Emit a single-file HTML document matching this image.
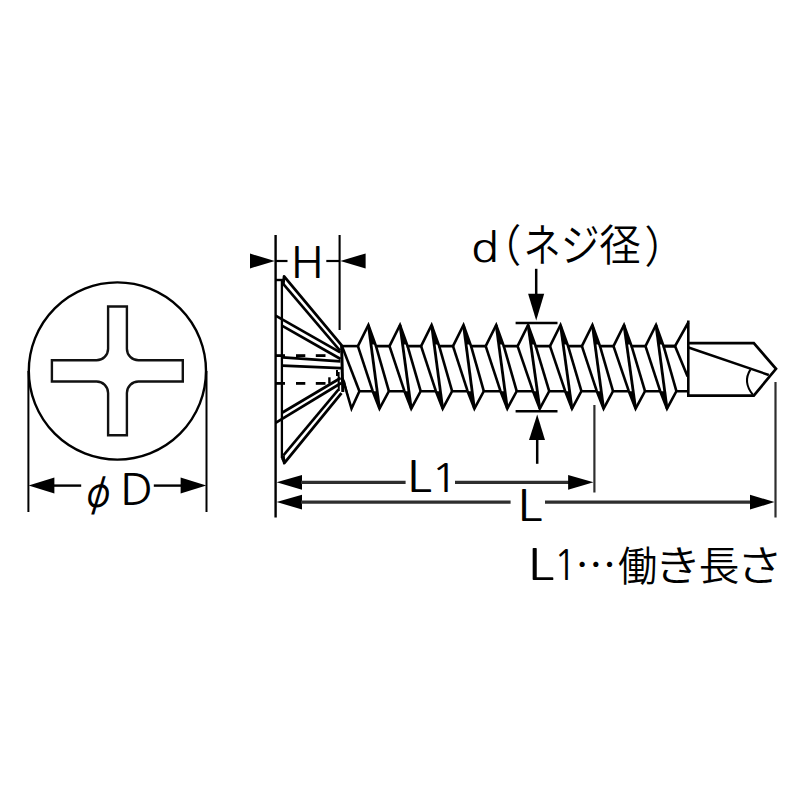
<!DOCTYPE html>
<html lang="ja">
<head>
<meta charset="utf-8">
<style>
html,body{margin:0;padding:0;background:#fff;}
body{width:800px;height:800px;overflow:hidden;font-family:"Liberation Sans","Noto Sans CJK JP",sans-serif;}
svg{display:block;}
</style>
</head>
<body>
<svg width="800" height="800" viewBox="0 0 800 800">
<rect x="0" y="0" width="800" height="800" fill="#fff"/>
<circle cx="117.4" cy="371.0" r="88.6" fill="none" stroke="#000" stroke-width="2.4"/>
<path d="M108.1,306.5 H126.9 V348.7 A11.5,11.5 0 0 0 138.4,360.2 H182.8 V381.5 H138.4 A11.5,11.5 0 0 0 126.9,393.0 V435.3 H108.1 V393.0 A11.5,11.5 0 0 0 96.6,381.5 H51.9 V360.2 H96.6 A11.5,11.5 0 0 0 108.1,348.7 Z" fill="none" stroke="#111" stroke-width="2.4" stroke-linejoin="miter" stroke-linecap="butt"/>
<line x1="28.40" y1="371.00" x2="28.40" y2="512.00" stroke="#000" stroke-width="2" stroke-linecap="butt"/>
<line x1="206.50" y1="371.00" x2="206.50" y2="512.00" stroke="#000" stroke-width="2" stroke-linecap="butt"/>
<polygon points="28.60,485.60 54.40,477.60 54.40,493.60" fill="#000"/>
<line x1="54.00" y1="485.60" x2="81.20" y2="485.60" stroke="#000" stroke-width="2.4" stroke-linecap="butt"/>
<polygon points="206.30,485.60 180.60,477.60 180.60,493.60" fill="#000"/>
<line x1="153.80" y1="485.60" x2="181.00" y2="485.60" stroke="#000" stroke-width="2.4" stroke-linecap="butt"/>
<line x1="275.60" y1="235.00" x2="275.60" y2="517.50" stroke="#000" stroke-width="2.4" stroke-linecap="butt"/>
<line x1="281.90" y1="280.00" x2="281.90" y2="458.00" stroke="#000" stroke-width="2.3" stroke-linecap="butt"/>
<line x1="339.60" y1="235.00" x2="339.60" y2="330.00" stroke="#000" stroke-width="2.1" stroke-linecap="butt"/>
<line x1="275.60" y1="280.00" x2="283.00" y2="280.00" stroke="#000" stroke-width="2.4" stroke-linecap="butt"/>
<line x1="275.60" y1="355.60" x2="285.00" y2="355.60" stroke="#000" stroke-width="2.8" stroke-linecap="butt"/>
<line x1="275.60" y1="383.40" x2="285.00" y2="383.40" stroke="#000" stroke-width="2.8" stroke-linecap="butt"/>
<path d="M283.3,284.2 L284.1,276.4 L341.9,345.6" fill="none" stroke="#000" stroke-width="2.8" stroke-linejoin="round" stroke-linecap="butt"/>
<line x1="283.20" y1="283.90" x2="340.00" y2="350.60" stroke="#000" stroke-width="2.6" stroke-linecap="butt"/>
<path d="M283.3,456 L284.3,463.2 L341.5,393.2" fill="none" stroke="#000" stroke-width="2.8" stroke-linejoin="round" stroke-linecap="butt"/>
<line x1="283.20" y1="455.60" x2="338.40" y2="389.60" stroke="#000" stroke-width="2.6" stroke-linecap="butt"/>
<line x1="281.90" y1="458.00" x2="284.00" y2="462.00" stroke="#000" stroke-width="2.3" stroke-linecap="butt"/>
<line x1="275.60" y1="315.60" x2="340.20" y2="352.40" stroke="#000" stroke-width="2.7" stroke-linecap="butt"/>
<line x1="281.90" y1="325.60" x2="340.60" y2="359.00" stroke="#000" stroke-width="2.7" stroke-linecap="butt"/>
<line x1="282.50" y1="357.40" x2="340.40" y2="361.40" stroke="#000" stroke-width="2.8" stroke-linecap="butt"/>
<line x1="282.50" y1="365.60" x2="341.00" y2="368.20" stroke="#000" stroke-width="2.7" stroke-linecap="butt"/>
<line x1="282.50" y1="412.50" x2="340.60" y2="378.00" stroke="#000" stroke-width="2.7" stroke-linecap="butt"/>
<line x1="275.60" y1="422.80" x2="341.20" y2="383.00" stroke="#000" stroke-width="2.7" stroke-linecap="butt"/>
<line x1="296.00" y1="355.60" x2="305.30" y2="355.60" stroke="#000" stroke-width="2.8" stroke-linecap="butt"/>
<line x1="315.80" y1="355.60" x2="325.50" y2="355.60" stroke="#000" stroke-width="2.8" stroke-linecap="butt"/>
<line x1="296.00" y1="383.40" x2="305.30" y2="383.40" stroke="#000" stroke-width="2.8" stroke-linecap="butt"/>
<line x1="315.80" y1="383.40" x2="325.50" y2="383.40" stroke="#000" stroke-width="2.8" stroke-linecap="butt"/>
<line x1="329.40" y1="377.30" x2="329.40" y2="383.60" stroke="#000" stroke-width="2.4" stroke-linecap="butt"/>
<line x1="337.00" y1="370.00" x2="337.00" y2="376.00" stroke="#000" stroke-width="2" stroke-linecap="butt"/>
<line x1="338.60" y1="372.00" x2="338.80" y2="391.00" stroke="#000" stroke-width="2" stroke-linecap="butt"/>
<path d="M341.6,345 L342.8,392" fill="none" stroke="#000" stroke-width="3" stroke-linejoin="miter" stroke-linecap="butt"/>
<path d="M357.90,346.1 L368.40,325.0 L376.00,346.1 H389.50" fill="none" stroke="#000" stroke-width="2.6" stroke-linejoin="miter" stroke-linecap="butt"/>
<line x1="357.90" y1="346.10" x2="372.70" y2="391.20" stroke="#000" stroke-width="2.6" stroke-linecap="butt"/>
<line x1="376.00" y1="346.10" x2="388.90" y2="391.20" stroke="#000" stroke-width="2.6" stroke-linecap="butt"/>
<line x1="368.40" y1="325.00" x2="379.50" y2="408.60" stroke="#000" stroke-width="2.8" stroke-linecap="butt"/>
<path d="M372.70,391.2 L379.50,408.6 L388.90,391.2 H404.45" fill="none" stroke="#000" stroke-width="2.6" stroke-linejoin="miter" stroke-linecap="butt"/>
<polygon points="368.40,324.00 375.42,344.50 371.01,344.50" fill="#000"/>
<polygon points="379.50,409.60 372.70,391.20 377.27,391.20" fill="#000"/>
<path d="M389.50,346.1 L400.00,325.0 L407.60,346.1 H421.10" fill="none" stroke="#000" stroke-width="2.6" stroke-linejoin="miter" stroke-linecap="butt"/>
<line x1="389.50" y1="346.10" x2="404.45" y2="391.20" stroke="#000" stroke-width="2.6" stroke-linecap="butt"/>
<line x1="407.60" y1="346.10" x2="420.65" y2="391.20" stroke="#000" stroke-width="2.6" stroke-linecap="butt"/>
<line x1="400.00" y1="325.00" x2="411.25" y2="408.60" stroke="#000" stroke-width="2.8" stroke-linecap="butt"/>
<path d="M404.45,391.2 L411.25,408.6 L420.65,391.2 H435.90" fill="none" stroke="#000" stroke-width="2.6" stroke-linejoin="miter" stroke-linecap="butt"/>
<polygon points="400.00,324.00 407.02,344.50 402.61,344.50" fill="#000"/>
<polygon points="411.25,409.60 404.45,391.20 408.87,391.20" fill="#000"/>
<path d="M421.10,346.1 L431.60,325.0 L439.20,346.1 H453.00" fill="none" stroke="#000" stroke-width="2.6" stroke-linejoin="miter" stroke-linecap="butt"/>
<line x1="421.10" y1="346.10" x2="435.90" y2="391.20" stroke="#000" stroke-width="2.6" stroke-linecap="butt"/>
<line x1="439.20" y1="346.10" x2="452.10" y2="391.20" stroke="#000" stroke-width="2.6" stroke-linecap="butt"/>
<line x1="431.60" y1="325.00" x2="442.70" y2="408.60" stroke="#000" stroke-width="2.8" stroke-linecap="butt"/>
<path d="M435.90,391.2 L442.70,408.6 L452.10,391.2 H467.60" fill="none" stroke="#000" stroke-width="2.6" stroke-linejoin="miter" stroke-linecap="butt"/>
<polygon points="431.60,324.00 438.62,344.50 434.21,344.50" fill="#000"/>
<polygon points="442.70,409.60 435.90,391.20 440.47,391.20" fill="#000"/>
<path d="M453.00,346.1 L463.50,325.0 L471.10,346.1 H485.70" fill="none" stroke="#000" stroke-width="2.6" stroke-linejoin="miter" stroke-linecap="butt"/>
<line x1="453.00" y1="346.10" x2="467.60" y2="391.20" stroke="#000" stroke-width="2.6" stroke-linecap="butt"/>
<line x1="471.10" y1="346.10" x2="483.80" y2="391.20" stroke="#000" stroke-width="2.6" stroke-linecap="butt"/>
<line x1="463.50" y1="325.00" x2="474.40" y2="408.60" stroke="#000" stroke-width="2.8" stroke-linecap="butt"/>
<path d="M467.60,391.2 L474.40,408.6 L483.80,391.2 H500.50" fill="none" stroke="#000" stroke-width="2.6" stroke-linejoin="miter" stroke-linecap="butt"/>
<polygon points="463.50,324.00 470.52,344.50 466.11,344.50" fill="#000"/>
<polygon points="474.40,409.60 467.60,391.20 472.37,391.20" fill="#000"/>
<path d="M485.70,346.1 L496.20,325.0 L503.80,346.1 H517.60" fill="none" stroke="#000" stroke-width="2.6" stroke-linejoin="miter" stroke-linecap="butt"/>
<line x1="485.70" y1="346.10" x2="500.50" y2="391.20" stroke="#000" stroke-width="2.6" stroke-linecap="butt"/>
<line x1="503.80" y1="346.10" x2="516.70" y2="391.20" stroke="#000" stroke-width="2.6" stroke-linecap="butt"/>
<line x1="496.20" y1="325.00" x2="507.30" y2="408.60" stroke="#000" stroke-width="2.8" stroke-linecap="butt"/>
<path d="M500.50,391.2 L507.30,408.6 L516.70,391.2 H533.00" fill="none" stroke="#000" stroke-width="2.6" stroke-linejoin="miter" stroke-linecap="butt"/>
<polygon points="496.20,324.00 503.22,344.50 498.81,344.50" fill="#000"/>
<polygon points="507.30,409.60 500.50,391.20 505.07,391.20" fill="#000"/>
<path d="M517.60,346.1 L528.10,325.0 L535.70,346.1 H550.00" fill="none" stroke="#000" stroke-width="2.6" stroke-linejoin="miter" stroke-linecap="butt"/>
<line x1="517.60" y1="346.10" x2="533.00" y2="391.20" stroke="#000" stroke-width="2.6" stroke-linecap="butt"/>
<line x1="535.70" y1="346.10" x2="549.20" y2="391.20" stroke="#000" stroke-width="2.6" stroke-linecap="butt"/>
<line x1="528.10" y1="325.00" x2="539.80" y2="408.60" stroke="#000" stroke-width="2.8" stroke-linecap="butt"/>
<path d="M533.00,391.2 L539.80,408.6 L549.20,391.2 H565.20" fill="none" stroke="#000" stroke-width="2.6" stroke-linejoin="miter" stroke-linecap="butt"/>
<polygon points="528.10,324.00 535.12,344.50 530.71,344.50" fill="#000"/>
<polygon points="539.80,409.60 533.00,391.20 536.97,391.20" fill="#000"/>
<path d="M550.00,346.1 L560.50,325.0 L568.10,346.1 H581.90" fill="none" stroke="#000" stroke-width="2.6" stroke-linejoin="miter" stroke-linecap="butt"/>
<line x1="550.00" y1="346.10" x2="565.20" y2="391.20" stroke="#000" stroke-width="2.6" stroke-linecap="butt"/>
<line x1="568.10" y1="346.10" x2="581.40" y2="391.20" stroke="#000" stroke-width="2.6" stroke-linecap="butt"/>
<line x1="560.50" y1="325.00" x2="572.00" y2="408.60" stroke="#000" stroke-width="2.8" stroke-linecap="butt"/>
<path d="M565.20,391.2 L572.00,408.6 L581.40,391.2 H596.80" fill="none" stroke="#000" stroke-width="2.6" stroke-linejoin="miter" stroke-linecap="butt"/>
<polygon points="560.50,324.00 567.52,344.50 563.11,344.50" fill="#000"/>
<polygon points="572.00,409.60 565.20,391.20 569.37,391.20" fill="#000"/>
<path d="M581.90,346.1 L592.40,325.0 L600.00,346.1 H613.50" fill="none" stroke="#000" stroke-width="2.6" stroke-linejoin="miter" stroke-linecap="butt"/>
<line x1="581.90" y1="346.10" x2="596.80" y2="391.20" stroke="#000" stroke-width="2.6" stroke-linecap="butt"/>
<line x1="600.00" y1="346.10" x2="613.00" y2="391.20" stroke="#000" stroke-width="2.6" stroke-linecap="butt"/>
<line x1="592.40" y1="325.00" x2="603.60" y2="408.60" stroke="#000" stroke-width="2.8" stroke-linecap="butt"/>
<path d="M596.80,391.2 L603.60,408.6 L613.00,391.2 H628.80" fill="none" stroke="#000" stroke-width="2.6" stroke-linejoin="miter" stroke-linecap="butt"/>
<polygon points="592.40,324.00 599.42,344.50 595.01,344.50" fill="#000"/>
<polygon points="603.60,409.60 596.80,391.20 601.27,391.20" fill="#000"/>
<path d="M613.50,346.1 L624.00,325.0 L631.60,346.1 H645.50" fill="none" stroke="#000" stroke-width="2.6" stroke-linejoin="miter" stroke-linecap="butt"/>
<line x1="613.50" y1="346.10" x2="628.80" y2="391.20" stroke="#000" stroke-width="2.6" stroke-linecap="butt"/>
<line x1="631.60" y1="346.10" x2="645.00" y2="391.20" stroke="#000" stroke-width="2.6" stroke-linecap="butt"/>
<line x1="624.00" y1="325.00" x2="635.60" y2="408.60" stroke="#000" stroke-width="2.8" stroke-linecap="butt"/>
<path d="M628.80,391.2 L635.60,408.6 L645.00,391.2 H660.20" fill="none" stroke="#000" stroke-width="2.6" stroke-linejoin="miter" stroke-linecap="butt"/>
<polygon points="624.00,324.00 631.02,344.50 626.61,344.50" fill="#000"/>
<polygon points="635.60,409.60 628.80,391.20 632.87,391.20" fill="#000"/>
<path d="M645.50,346.1 L656.00,325.0 L663.60,346.1 H675.00" fill="none" stroke="#000" stroke-width="2.6" stroke-linejoin="miter" stroke-linecap="butt"/>
<line x1="645.50" y1="346.10" x2="660.20" y2="391.20" stroke="#000" stroke-width="2.6" stroke-linecap="butt"/>
<line x1="663.60" y1="346.10" x2="676.40" y2="391.20" stroke="#000" stroke-width="2.6" stroke-linecap="butt"/>
<line x1="656.00" y1="325.00" x2="667.00" y2="408.60" stroke="#000" stroke-width="2.8" stroke-linecap="butt"/>
<path d="M660.20,391.2 L667.00,408.6 L676.40,391.2 H688.50" fill="none" stroke="#000" stroke-width="2.6" stroke-linejoin="miter" stroke-linecap="butt"/>
<polygon points="656.00,324.00 663.02,344.50 658.61,344.50" fill="#000"/>
<polygon points="667.00,409.60 660.20,391.20 664.87,391.20" fill="#000"/>
<path d="M663.60,346.1 H675 L688.30,322.5" fill="none" stroke="#000" stroke-width="2.6" stroke-linejoin="miter" stroke-linecap="butt"/>
<line x1="675.00" y1="346.10" x2="687.60" y2="376.50" stroke="#000" stroke-width="2.6" stroke-linecap="butt"/>
<path d="M341.3,346.1 H357.90" fill="none" stroke="#000" stroke-width="2.6" stroke-linejoin="miter" stroke-linecap="butt"/>
<line x1="342.00" y1="346.10" x2="359.40" y2="391.20" stroke="#000" stroke-width="2.6" stroke-linecap="butt"/>
<path d="M342.5,378 L351.5,408.6 L359.4,391.2 H372.70" fill="none" stroke="#000" stroke-width="2.6" stroke-linejoin="miter" stroke-linecap="butt"/>
<polygon points="342.30,377.00 345.20,381.50 351.90,409.60 351.20,409.60" fill="#000"/>
<line x1="688.30" y1="320.50" x2="688.30" y2="397.00" stroke="#000" stroke-width="2.6" stroke-linecap="butt"/>
<path d="M688.5,343.1 H753.8 L776,368.8 L753.8,395.6 H688.5" fill="none" stroke="#000" stroke-width="2.7" stroke-linejoin="miter" stroke-linecap="butt"/>
<line x1="688.50" y1="347.50" x2="768.80" y2="375.00" stroke="#000" stroke-width="2.4" stroke-linecap="butt"/>
<path d="M750.4,369.6 Q742.5,382 752.8,394.6" fill="none" stroke="#000" stroke-width="2" stroke-linejoin="miter" stroke-linecap="butt"/>
<line x1="515.60" y1="322.90" x2="557.50" y2="322.90" stroke="#000" stroke-width="2.5" stroke-linecap="butt"/>
<line x1="515.60" y1="411.30" x2="557.50" y2="411.30" stroke="#000" stroke-width="2.5" stroke-linecap="butt"/>
<line x1="536.20" y1="268.80" x2="536.20" y2="295.00" stroke="#000" stroke-width="2.5" stroke-linecap="butt"/>
<polygon points="536.20,320.50 528.10,293.80 544.20,293.80" fill="#000"/>
<line x1="537.20" y1="439.00" x2="537.20" y2="463.80" stroke="#000" stroke-width="2.5" stroke-linecap="butt"/>
<polygon points="537.20,414.50 529.00,440.00 545.00,440.00" fill="#000"/>
<polygon points="276.60,482.30 302.00,474.90 302.00,489.70" fill="#000"/>
<line x1="301.00" y1="482.30" x2="405.60" y2="482.30" stroke="#2e2e2e" stroke-width="3.2" stroke-linecap="butt"/>
<line x1="455.00" y1="482.30" x2="569.00" y2="482.30" stroke="#2e2e2e" stroke-width="3.2" stroke-linecap="butt"/>
<polygon points="593.50,482.30 568.10,474.90 568.10,489.70" fill="#000"/>
<line x1="594.40" y1="405.00" x2="594.40" y2="492.50" stroke="#2e2e2e" stroke-width="2.2" stroke-linecap="butt"/>
<polygon points="276.60,502.10 302.00,494.70 302.00,509.50" fill="#000"/>
<line x1="301.00" y1="502.10" x2="510.60" y2="502.10" stroke="#2e2e2e" stroke-width="3.2" stroke-linecap="butt"/>
<line x1="545.00" y1="502.10" x2="751.00" y2="502.10" stroke="#2e2e2e" stroke-width="3.2" stroke-linecap="butt"/>
<polygon points="774.50,502.10 750.00,494.70 750.00,509.50" fill="#000"/>
<line x1="775.50" y1="382.00" x2="775.50" y2="517.50" stroke="#2e2e2e" stroke-width="2.2" stroke-linecap="butt"/>
<polygon points="274.80,261.00 250.00,253.60 250.00,268.40" fill="#000"/>
<line x1="275.00" y1="261.00" x2="287.50" y2="261.00" stroke="#000" stroke-width="2.2" stroke-linecap="butt"/>
<line x1="326.30" y1="261.00" x2="340.00" y2="261.00" stroke="#000" stroke-width="2.2" stroke-linecap="butt"/>
<polygon points="340.40,261.00 365.60,253.40 365.60,268.60" fill="#000"/>
<g><text transform="translate(290.46,277.92) scale(1.059,1)" font-size="43.51" font-family='"NanumGothic", "Liberation Sans", sans-serif'>H</text></g>
<g><text transform="translate(98.5,495.3) skewX(-6) scale(0.75,0.98)" x="-24.1" y="14.8" font-size="48.2" font-family='"IPAGothic", "Noto Sans CJK JP", sans-serif'>φ</text><text transform="translate(120.19,504.60) scale(1.060,1)" font-size="42.84" font-family='"NanumGothic", "Liberation Sans", sans-serif'>D</text></g>
<g><text transform="translate(406.64,491.60) scale(1.200,1)" font-size="43.11" font-family='"NanumGothic", "Liberation Sans", sans-serif'>L</text><text transform="translate(430.81,491.50) scale(1.153,1)" font-size="39.60" font-family='"NanumGothic", "Liberation Sans", sans-serif'>1</text></g>
<g><text transform="translate(517.29,520.95) scale(1.225,1)" font-size="42.23" font-family='"NanumGothic", "Liberation Sans", sans-serif'>L</text></g>
<g><text transform="translate(471.05,261.80) scale(1.151,1)" font-size="40.12" font-family='"NanumGothic", "Liberation Sans", sans-serif'>d</text><text transform="translate(480.91,262.41) scale(0.911,1)" font-size="44.11" font-weight="350" font-family='"Noto Sans CJK JP", sans-serif'>（</text><text transform="translate(523.38,261.63) scale(0.821,1)" font-size="45.42" font-weight="350" font-family='"Noto Sans CJK JP", sans-serif'>ネ</text><text transform="translate(560.81,261.35) scale(0.867,1)" font-size="44.88" font-weight="350" font-family='"Noto Sans CJK JP", sans-serif'>ジ</text><text transform="translate(599.26,261.27) scale(0.968,1)" font-size="42.83" font-weight="350" font-family='"Noto Sans CJK JP", sans-serif'>径</text><text transform="translate(644.54,262.52) scale(0.914,1)" font-size="44.00" font-weight="350" font-family='"Noto Sans CJK JP", sans-serif'>）</text></g>
<g><text transform="translate(527.57,580.30) scale(1.277,1)" font-size="43.11" font-family='"NanumGothic", "Liberation Sans", sans-serif'>L</text><text transform="translate(553.72,580.09) scale(0.903,1)" font-size="42.15" font-family='"NanumGothic", "Liberation Sans", sans-serif'>1</text><text x="575.3" y="580.4" font-size="41.2" font-weight="350" font-family='"Noto Sans CJK JP", sans-serif'>…</text><text transform="translate(618.07,580.63) scale(0.960,1)" font-size="40.82" font-weight="350" font-family='"Noto Sans CJK JP", sans-serif'>働</text><text transform="translate(653.92,580.83) scale(1.148,1)" font-size="41.55" font-weight="350" font-family='"Noto Sans CJK JP", sans-serif'>き</text><text transform="translate(698.66,580.03) scale(1.009,1)" font-size="40.28" font-weight="350" font-family='"Noto Sans CJK JP", sans-serif'>長</text><text transform="translate(736.61,581.03) scale(1.113,1)" font-size="41.80" font-weight="350" font-family='"Noto Sans CJK JP", sans-serif'>さ</text></g>
</svg>
</body>
</html>
